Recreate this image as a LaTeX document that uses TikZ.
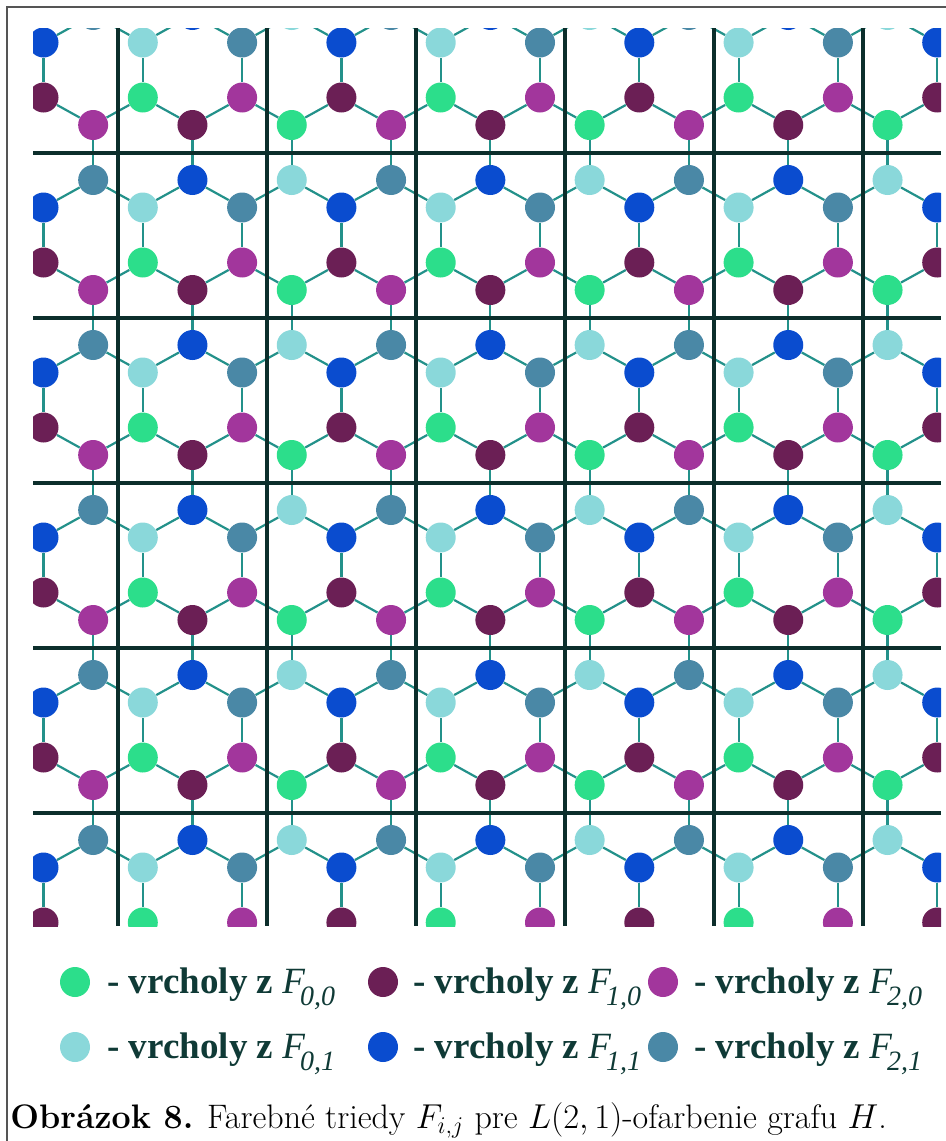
\documentclass[tikz,border=0pt]{standalone}
\usepackage{fontspec}
\usepackage{tikz}
\usetikzlibrary{positioning}
\IfFontExistsTF{LiberationSerif-Regular.ttf}
    {\newfontfamily\legfont{LiberationSerif}[Extension=.ttf,UprightFont=*-Regular,
        BoldFont=*-Bold,ItalicFont=*-Italic,BoldItalicFont=*-BoldItalic]}
    {\newfontfamily\legfont{DejaVu Serif}}
\definecolor{f00}{HTML}{2CDE8B}
\definecolor{f10}{HTML}{6B1F55}
\definecolor{f20}{HTML}{A2369C}
\definecolor{f01}{HTML}{8AD8DA}
\definecolor{f11}{HTML}{0A4CCF}
\definecolor{f21}{HTML}{4A88A6}
\definecolor{edgeteal}{HTML}{23918A}
\definecolor{griddark}{HTML}{0C2E2B}
\definecolor{legteal}{HTML}{0F3A36}
\definecolor{framegray}{HTML}{555555}
\newcommand{\legF}[1]{{\mdseries\itshape F\kern-2.5pt\raisebox{-6pt}{\fontsize{14}{14}\selectfont #1}}}

\begin{document}
\begin{tikzpicture}[x=0.5pt,y=-0.5pt,
    dot/.style={circle,inner sep=0pt,minimum size=15pt},
    hexedge/.style={draw=edgeteal,line width=1.1pt},
    gridline/.style={draw=griddark,line width=2pt},
    legtext/.style={anchor=base west,inner sep=0pt,text=legteal,
        font=\legfont\bfseries\fontsize{18.5}{20}\selectfont}]
\useasboundingbox (0,0) rectangle (946,1141);
\draw[framegray,line width=1pt] (946,7) -- (7,7) -- (7,1141);

\begin{scope}
\clip (33,28) rectangle (941,926);
\foreach \c in {0,...,22} {
    \pgfmathsetmacro\xx{43.5+49.65*(\c-2)}
    \pgfmathtruncatemacro\ci{mod(\c+2,3)}
    \foreach \m in {0,...,5} {
        \ifodd\c\relax
            \node[dot,fill=f\ci1] (v\c-\m-0) at (\xx,15+165*\m) {};
            \node[dot,fill=f\ci0] (v\c-\m-3) at (\xx,125+165*\m) {};
        \else
            \node[dot,fill=f\ci1] (v\c-\m-1) at (\xx,42.5+165*\m) {};
            \node[dot,fill=f\ci0] (v\c-\m-2) at (\xx,97.5+165*\m) {};
        \fi
    }
}
\foreach \c in {1,3,...,21} {
    \pgfmathtruncatemacro\cl{\c-1}
    \pgfmathtruncatemacro\cr{\c+1}
    \foreach \m in {0,...,5}
        \draw[hexedge] (v\c-\m-0) -- (v\cl-\m-1) (v\c-\m-0) -- (v\cr-\m-1)
            (v\c-\m-3) -- (v\cl-\m-2) (v\c-\m-3) -- (v\cr-\m-2);
    \foreach \m [evaluate=\m as \n using int(\m+1)] in {0,...,4}
        \draw[hexedge] (v\c-\m-3) -- (v\c-\n-0);
}
\foreach \c in {0,2,...,22}
    \foreach \m in {0,...,5}
        \draw[hexedge] (v\c-\m-1) -- (v\c-\m-2);
\foreach \k in {0,...,5}
    \draw[gridline] ({118+148.95*\k},28) -- ({118+148.95*\k},926);
\foreach \k in {0,...,4}
    \draw[gridline] (33,{152.5+165*\k}) -- (941,{152.5+165*\k});
\end{scope}

\node[dot,fill=f00] (k00) at (75,982) {};
\node[legtext] (t00) at (107,993) {- vrcholy z \legF{0,0}};
\node[dot,fill=f10] (k10) at (383,982) {};
\node[legtext] (t10) at (413,993) {- vrcholy z \legF{1,0}};
\node[dot,fill=f20] (k20) at (663,982) {};
\node[legtext] (t20) at (694,993) {- vrcholy z \legF{2,0}};
\node[dot,fill=f01] (k01) at (75,1047) {};
\node[legtext] (t01) at (107,1058) {- vrcholy z \legF{0,1}};
\node[dot,fill=f11] (k11) at (383,1047) {};
\node[legtext] (t11) at (413,1058) {- vrcholy z \legF{1,1}};
\node[dot,fill=f21] (k21) at (663,1047) {};
\node[legtext] (t21) at (694,1058) {- vrcholy z \legF{2,1}};

\node[anchor=base west,inner sep=0pt,font=\fontsize{17}{19}\selectfont] (cap) at (10,1128)
    {\textbf{Obrázok 8.} Farebné triedy $F_{i,j}$ pre $L(2,1)$-ofarbenie grafu $H$.};
\end{tikzpicture}
\end{document}
